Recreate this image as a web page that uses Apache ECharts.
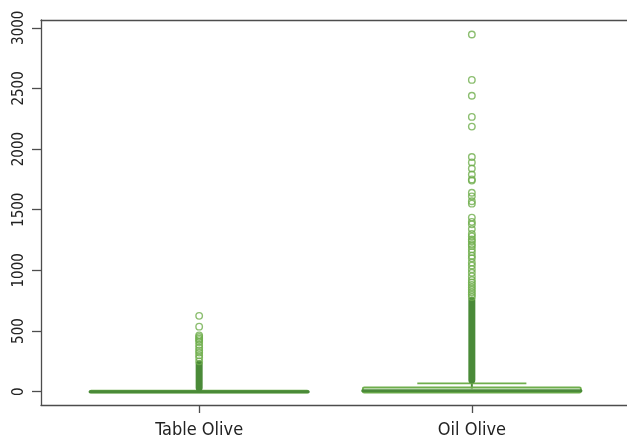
<!DOCTYPE html>
<html>
<head>
<meta charset="utf-8">
<script src="https://cdn.jsdelivr.net/npm/echarts@6/dist/echarts.min.js"></script>
<style>html,body{margin:0;padding:0;background:#fff}#c{width:627px;height:439px}</style>
</head>
<body>
<div id="c"></div>
<script>
const categories = ['Table Olive', 'Oil Olive'];
// low whisker, Q1, median, Q3, high whisker
const tableBox = [0, 0, 0, 0, 2];
const oilBox = [0, 0, 8, 26, 68];
// ranges where outliers overlap into a solid column
const tableDense = [4, 235];
const oilDense = [68, 760];
const tableOutliers = [250, 280, 300, 322, 340, 363, 385, 409, 425, 437, 450, 464, 536, 625];
const oilOutliers = [780, 800, 820, 840, 860, 880, 900, 920, 950, 980, 1010, 1040, 1065, 1100, 1120,
  1150, 1175, 1200, 1215, 1240, 1255, 1280, 1300, 1340, 1380, 1400, 1435, 1550, 1570, 1610, 1640,
  1740, 1750, 1790, 1840, 1890, 1935, 2185, 2265, 2440, 2570, 2945];
const yTicks = [0, 500, 1000, 1500, 2000, 2500, 3000];

const LIGHT = '#6fae4c';
const DARK = '#4a8a38';
const AXIS = '#4d4d4d';
const FONT = '"Liberation Sans Narrow", "DejaVu Sans Condensed", sans-serif';

const chart = echarts.init(document.getElementById('c'), null, {renderer: 'canvas'});

const boxData = [[1].concat(tableBox), [2].concat(oilBox)];
const denseData = [[1].concat(tableDense), [2].concat(oilDense)];
const outlierData = tableOutliers.map(v => [1, v]).concat(oilOutliers.map(v => [2, v]));

const X_MIN = 0.42, X_MAX = 2.569;

chart.setOption({
  animation: false,
  grid: {left: 41, right: 0, top: 20, bottom: 33},
  xAxis: [{
    type: 'value', min: X_MIN, max: X_MAX,
    splitLine: {show: false},
    axisLine: {show: true, onZero: false, lineStyle: {color: AXIS, width: 1.3}},
    axisTick: {show: true, length: 8, customValues: [1, 2], lineStyle: {color: AXIS, width: 1.3}},
    axisLabel: {customValues: [1, 2], formatter: v => categories[Math.round(v) - 1],
      fontFamily: FONT, fontSize: 18, color: '#222', margin: 16}
  }, {
    type: 'value', min: X_MIN, max: X_MAX, position: 'top',
    splitLine: {show: false},
    axisLine: {show: true, onZero: false, lineStyle: {color: AXIS, width: 1.3}},
    axisTick: {show: false}, axisLabel: {show: false}
  }],
  yAxis: {
    type: 'value', min: -110, max: 3064,
    splitLine: {show: false},
    axisLine: {show: true, onZero: false, lineStyle: {color: AXIS, width: 1.3}},
    axisTick: {show: true, length: 9, customValues: yTicks, lineStyle: {color: AXIS, width: 1.3}},
    axisLabel: {customValues: yTicks, formatter: v => String(v), rotate: 90,
      fontFamily: FONT, fontSize: 15, color: '#222', margin: 14}
  },
  series: [
    {
      type: 'custom',
      data: boxData,
      renderItem: function (params, api) {
        const x = api.value(0);
        const w = api.size([0.8, 0])[0];
        const p = i => api.coord([x, api.value(i)]);
        const lo = p(1), q1 = p(2), md = p(3), q3 = p(4), hi = p(5);
        const cx = lo[0];
        const ls = {stroke: LIGHT, lineWidth: 1.6, fill: null};
        return {
          type: 'group',
          children: [
            {type: 'line', shape: {x1: cx, y1: q3[1], x2: cx, y2: hi[1]}, style: {stroke: DARK, lineWidth: 2}},
            {type: 'line', shape: {x1: cx, y1: q1[1], x2: cx, y2: lo[1]}, style: {stroke: DARK, lineWidth: 2}},
            {type: 'line', shape: {x1: cx - w / 4, y1: hi[1], x2: cx + w / 4, y2: hi[1]}, style: ls},
            {type: 'line', shape: {x1: cx - w / 4, y1: lo[1], x2: cx + w / 4, y2: lo[1]}, style: ls},
            {type: 'rect', shape: {x: cx - w / 2, y: q3[1] - 1, width: w, height: q1[1] - q3[1] + 2, r: 1.5},
              style: {stroke: LIGHT, lineWidth: 1.8, fill: null}},
            {type: 'line', shape: {x1: cx - w / 2, y1: md[1], x2: cx + w / 2, y2: md[1]},
              style: {stroke: DARK, lineWidth: 3, lineCap: 'round'}}
          ]
        };
      }
    },
    {
      type: 'custom',
      data: denseData,
      renderItem: function (params, api) {
        const a = api.coord([api.value(0), api.value(1)]);
        const b = api.coord([api.value(0), api.value(2)]);
        return {
          type: 'rect',
          shape: {x: a[0] - 3.5, y: b[1] - 3, width: 7, height: a[1] - b[1] + 3, r: 3.5},
          style: {fill: DARK}
        };
      }
    },
    {
      type: 'scatter',
      data: outlierData,
      symbol: 'circle',
      symbolSize: 6.5,
      itemStyle: {color: 'rgba(0,0,0,0)', borderColor: LIGHT, borderWidth: 1.4}
    }
  ]
});
</script>
</body>
</html>
